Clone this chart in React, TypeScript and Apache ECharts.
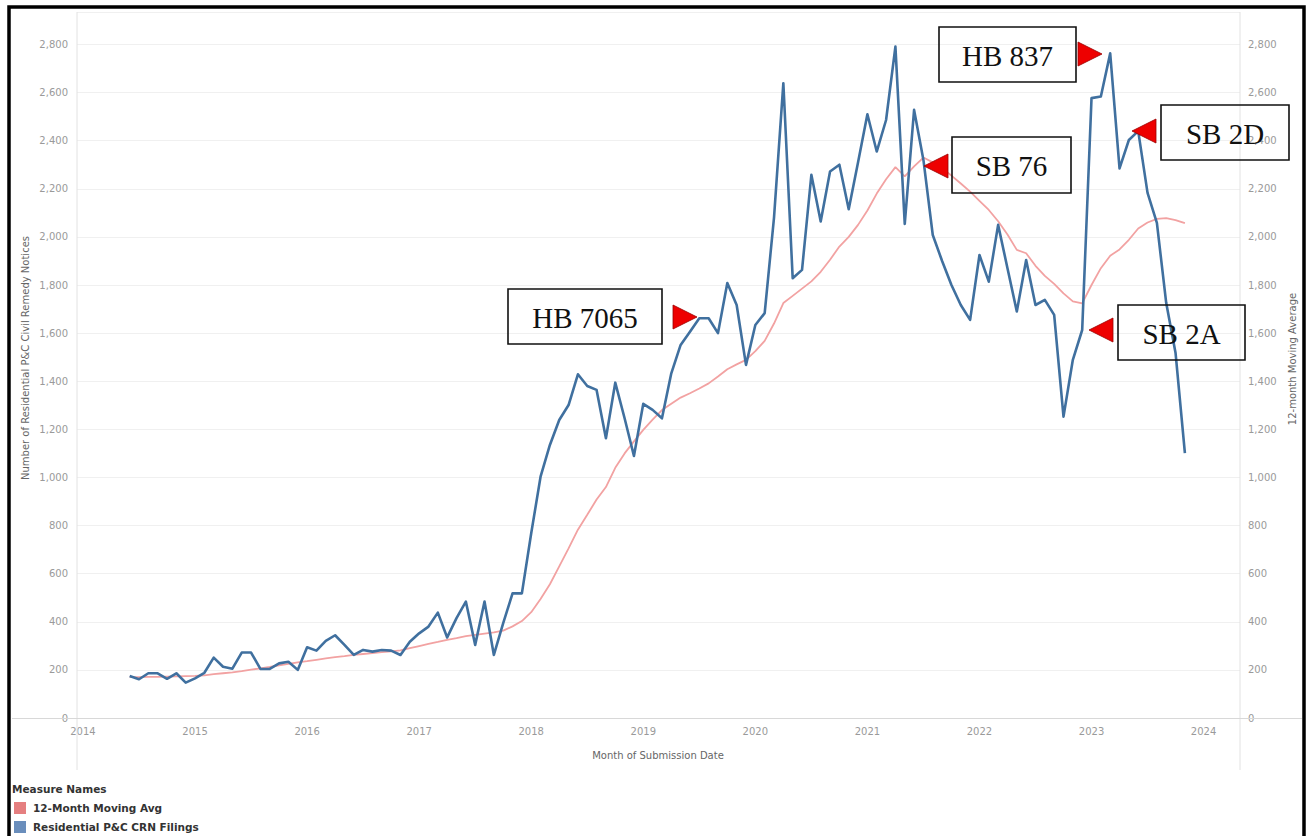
import React, { useEffect, useRef } from "react";
import * as echarts from "echarts";

// First data month: June 2014; one value per month
const START_YEAR = 2014;
const START_MONTH = 6;

const yearLabels = [2014, 2015, 2016, 2017, 2018, 2019, 2020, 2021, 2022, 2023, 2024];
const yTicks = [0, 200, 400, 600, 800, 1000, 1200, 1400, 1600, 1800, 2000, 2200, 2400, 2600, 2800];

const filings = [
  175, 161, 186, 186, 163, 186, 147, 165, 188, 251,
  213, 205, 272, 272, 204, 204, 227, 234, 200, 294,
  280, 321, 344, 304, 262, 283, 276, 283, 280, 262,
  317, 352, 380, 438, 335, 415, 484, 304, 484, 262,
  394, 518, 518, 768, 1003, 1135, 1239, 1301, 1429, 1380,
  1364, 1163, 1394, 1246, 1089, 1306, 1281, 1246, 1433, 1551,
  1606, 1662, 1662, 1600, 1808, 1717, 1468, 1634, 1683, 2080,
  2639, 1828, 1863, 2258, 2064, 2272, 2300, 2115, 2310, 2510,
  2355, 2486, 2791, 2054, 2528, 2320, 2008, 1900, 1800, 1717,
  1655, 1925, 1814, 2050, 1870, 1690, 1904, 1717, 1738, 1676,
  1253, 1489, 1613, 2577, 2584, 2763, 2285, 2403, 2440, 2183,
  2058, 1725, 1517, 1101,
];

const movingAvg = [
  170, 170, 171, 171, 172, 173, 174, 175, 177, 182,
  186, 190, 195, 201, 206, 212, 219, 225, 231, 236,
  242, 248, 253, 257, 262, 266, 270, 274, 277, 281,
  290, 299, 308, 316, 325, 332, 340, 346, 351, 356,
  363, 381, 403, 440, 495, 556, 630, 705, 783, 845,
  908, 960, 1040, 1100, 1150, 1198, 1240, 1280, 1306, 1332,
  1350, 1370, 1391, 1420, 1450, 1470, 1489, 1525, 1568, 1640,
  1725, 1755, 1785, 1815, 1855, 1905, 1960, 2000, 2050, 2110,
  2180, 2240, 2290, 2252, 2293, 2330, 2310, 2285, 2255, 2222,
  2188, 2150, 2112, 2065, 2010, 1946, 1932, 1880, 1838, 1805,
  1765, 1732, 1724, 1800, 1870, 1922, 1948, 1988, 2035, 2060,
  2075, 2078, 2070, 2057,
];

const annotations = [
  { label: "HB 7065", box: [508, 289, 154, 55], dir: "right", tip: [697, 317] },
  { label: "HB 837", box: [939, 27, 137, 55], dir: "right", tip: [1102, 54] },
  { label: "SB 76", box: [952, 137, 119, 56], dir: "left", tip: [924, 166] },
  { label: "SB 2D", box: [1161, 105, 128, 55], dir: "left", tip: [1132, 131] },
  { label: "SB 2A", box: [1118, 305, 127, 55], dir: "left", tip: [1089, 330] },
];

const FONT = "'DejaVu Sans', Verdana, sans-serif";

export default function App() {
  const ref = useRef<HTMLDivElement>(null);

  useEffect(() => {
    if (!ref.current) return;
    const chart = echarts.init(ref.current, undefined, { renderer: "svg" });

    const monthPos = (i: number) => (START_MONTH - 1) + i; // months since Jan of START_YEAR
    const blueData = filings.map((v, i) => [monthPos(i), v]);
    const pinkData = movingAvg.map((v, i) => [monthPos(i), v]);

    const graphics: any[] = [];
    // outer frame
    graphics.push({
      type: "rect",
      shape: { x: 9, y: 7, width: 1295, height: 900 },
      style: { fill: "none", stroke: "#000", lineWidth: 3.5 },
      z: 200,
    });
    // pane borders
    [77, 1240].forEach((x) =>
      graphics.push({
        type: "line",
        shape: { x1: x, y1: 12, x2: x, y2: 770 },
        style: { stroke: "#e2e2e2", lineWidth: 1 },
        z: 1,
      })
    );
    // zero line
    graphics.push({
      type: "line",
      shape: { x1: 12, y1: 718.5, x2: 1302, y2: 718.5 },
      style: { stroke: "#d8d8d8", lineWidth: 1.2 },
      z: 1,
    });
    // axis titles
    graphics.push({
      type: "text",
      x: 25,
      y: 358,
      rotation: Math.PI / 2,
      style: {
        text: "Number of Residential P&C Civil Remedy Notices",
        fill: "#666",
        font: `10px ${FONT}`,
        align: "center",
        verticalAlign: "middle",
      },
    });
    graphics.push({
      type: "text",
      x: 1292,
      y: 359,
      rotation: Math.PI / 2,
      style: {
        text: "12-month Moving Average",
        fill: "#666",
        font: `10px ${FONT}`,
        align: "center",
        verticalAlign: "middle",
      },
    });
    graphics.push({
      type: "text",
      x: 658,
      y: 755,
      style: {
        text: "Month of Submission Date",
        fill: "#666",
        font: `10px ${FONT}`,
        align: "center",
        verticalAlign: "middle",
      },
    });
    // legend
    graphics.push({
      type: "text",
      x: 12,
      y: 789,
      style: { text: "Measure Names", fill: "#333", font: `bold 10.5px ${FONT}`, align: "left", verticalAlign: "middle" },
    });
    const legendItems = [
      { name: "12-Month Moving Avg", color: "#E57F80", y: 808 },
      { name: "Residential P&C CRN Filings", color: "#6A8EBC", y: 827 },
    ];
    legendItems.forEach((it) => {
      graphics.push({
        type: "rect",
        shape: { x: 14, y: it.y - 6, width: 12, height: 12 },
        style: { fill: it.color },
      });
      graphics.push({
        type: "text",
        x: 33,
        y: it.y,
        style: { text: it.name, fill: "#333", font: `bold 10.5px ${FONT}`, align: "left", verticalAlign: "middle" },
      });
    });
    // annotations
    annotations.forEach((a) => {
      const [bx, by, bw, bh] = a.box;
      graphics.push({
        type: "rect",
        shape: { x: bx, y: by, width: bw, height: bh },
        style: { fill: "none", stroke: "#111", lineWidth: 1.6 },
        z: 100,
      });
      graphics.push({
        type: "text",
        x: bx + bw / 2,
        y: by + bh / 2 + 1,
        style: {
          text: a.label,
          fill: "#111",
          font: `29px 'Liberation Serif', 'DejaVu Serif', serif`,
          align: "center",
          verticalAlign: "middle",
        },
        z: 100,
      });
      const [tx, ty] = a.tip;
      const pts =
        a.dir === "right"
          ? [[tx, ty], [tx - 24, ty - 12], [tx - 24, ty + 12]]
          : [[tx, ty], [tx + 24, ty - 12], [tx + 24, ty + 12]];
      graphics.push({
        type: "polygon",
        shape: { points: pts },
        style: { fill: "#EE0000", stroke: "#990000", lineWidth: 0.8 },
        z: 110,
      });
    });

    const yAxisCommon = {
      type: "value",
      min: 0,
      max: 2935,
      interval: 200,
      axisLine: { show: false },
      axisTick: { show: false },
      axisLabel: {
        color: "#9a9a9a",
        fontSize: 10,
        fontFamily: FONT,
        showMaxLabel: false,
        formatter: (v: number) => (yTicks.indexOf(v) < 0 ? "" : v.toLocaleString("en-US")),
      },
    };

    chart.setOption({
      animation: false,
      backgroundColor: "#ffffff",
      grid: { left: 77, right: 70, top: 12, bottom: 118, containLabel: false },
      xAxis: {
        type: "value",
        min: -0.64,
        max: 123.9,
        axisLine: { show: false },
        axisTick: { show: false },
        splitLine: { show: false },
        axisLabel: {
          customValues: yearLabels.map((y) => (y - START_YEAR) * 12),
          formatter: (v: number) => String(START_YEAR + Math.round(v / 12)),
          color: "#9a9a9a",
          fontSize: 10,
          fontFamily: FONT,
          margin: 8,
          showMinLabel: true,
          showMaxLabel: true,
        },
      },
      yAxis: [
        {
          ...yAxisCommon,
          position: "left",
          axisLabel: { ...yAxisCommon.axisLabel, margin: 9 },
          splitLine: { show: true, lineStyle: { color: "#f0f0f0", width: 1 } },
        },
        {
          ...yAxisCommon,
          position: "right",
          axisLabel: { ...yAxisCommon.axisLabel, margin: 8 },
          splitLine: { show: false },
        },
      ],
      series: [
        {
          name: "12-Month Moving Avg",
          type: "line",
          yAxisIndex: 1,
          data: pinkData,
          showSymbol: false,
          symbol: "none",
          lineStyle: { color: "#F2A2A2", width: 1.8 },
          z: 2,
        },
        {
          name: "Residential P&C CRN Filings",
          type: "line",
          yAxisIndex: 0,
          data: blueData,
          showSymbol: false,
          symbol: "none",
          lineStyle: { color: "#40709F", width: 2.6, join: "round" },
          z: 3,
        },
      ],
      graphic: graphics,
    });

    return () => chart.dispose();
  }, []);

  return (
    <div
      ref={ref}
      style={{ position: "fixed", left: 0, top: 0, width: 1310, height: 836, background: "#fff" }}
    />
  );
}
